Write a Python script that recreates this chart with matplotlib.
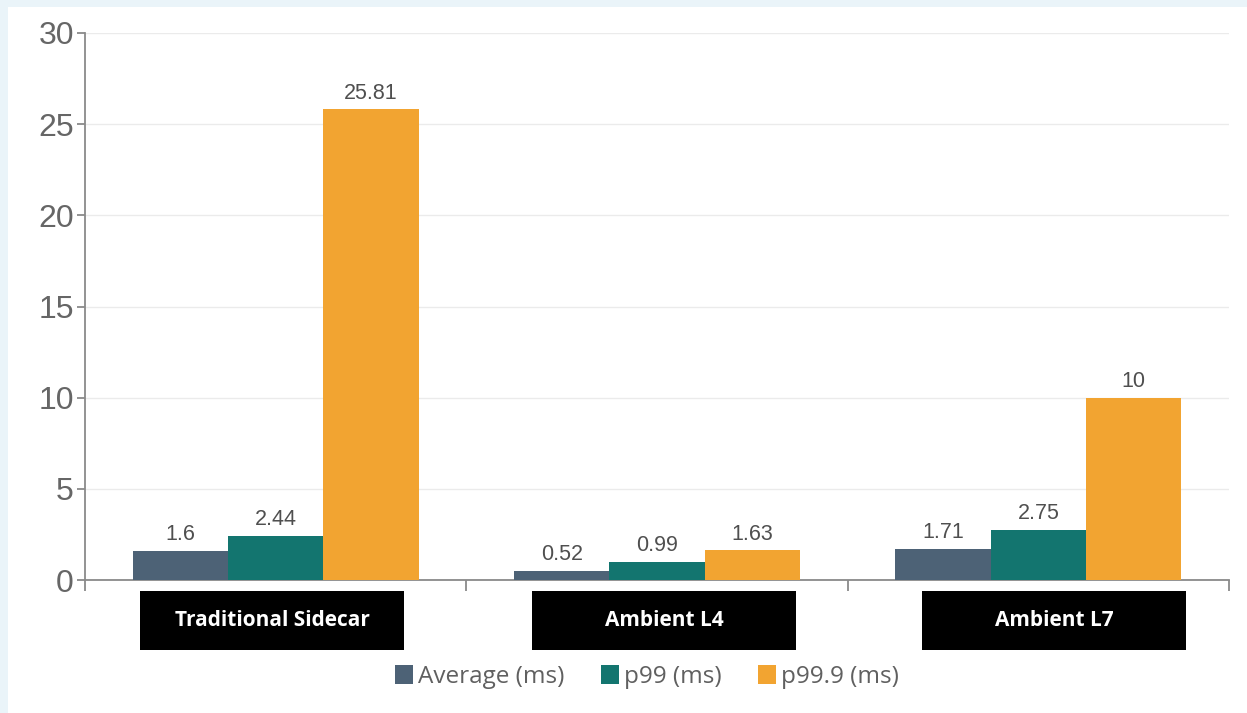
import matplotlib.pyplot as plt
import numpy as np
from matplotlib.patches import Rectangle

categories = ["Traditional Sidecar", "Ambient L4", "Ambient L7"]
series_names = ["Average (ms)", "p99 (ms)", "p99.9 (ms)"]
average_ms = [1.6, 0.52, 1.71]
p99_ms = [2.44, 0.99, 2.75]
p999_ms = [25.81, 1.63, 10]
value_labels = [["1.6", "0.52", "1.71"], ["2.44", "0.99", "2.75"], ["25.81", "1.63", "10"]]

colors = ["#4d6276", "#13756f", "#f2a431"]
W, H = 1247, 713

fig = plt.figure(figsize=(W / 100, H / 100), dpi=100, facecolor="#eaf4f9")
# white panel, behind the axes
fig.patches.append(Rectangle((8 / W, 0), 1 - 8 / W, 1 - 7 / H, transform=fig.transFigure,
                             facecolor="white", edgecolor="none", zorder=-1))

ax = fig.add_axes([85 / W, 1 - 580 / H, (1229 - 85) / W, (580 - 33) / H])
ax.set_facecolor("none")

x = np.arange(len(categories))
bar_w = 0.25
for i, (vals, name) in enumerate(zip([average_ms, p99_ms, p999_ms], series_names)):
    pos = x + (i - 1) * bar_w
    ax.bar(pos, vals, width=bar_w, color=colors[i], label=name, zorder=3)
    for px, v, lab in zip(pos, vals, value_labels[i]):
        ax.text(px, v + 0.3, lab, ha="center", va="bottom", fontsize=15.5,
                color="#4f4f4f", family="Liberation Sans", zorder=4)

ax.set_xlim(-0.5, len(categories) - 0.5)
ax.set_ylim(0, 30)
ax.set_yticks(range(0, 31, 5))
ax.yaxis.grid(True, color="#ebebeb", linewidth=1, zorder=0)
ax.set_axisbelow(True)

for side in ["top", "right"]:
    ax.spines[side].set_visible(False)
ax.spines["left"].set_color("#8a8a8a")
ax.spines["bottom"].set_color("#8a8a8a")
ax.spines["left"].set_linewidth(1.3)
ax.spines["bottom"].set_linewidth(1.3)

ax.tick_params(axis="y", colors="#8a8a8a", length=6, width=1.3, labelsize=23, pad=2,
               labelcolor="#666666")
for t in ax.get_yticklabels():
    t.set_family("Liberation Sans")

# category boundary ticks on the x axis
ax.set_xticks(np.arange(len(categories) + 1) - 0.5)
ax.set_xticklabels([])
ax.tick_params(axis="x", colors="#8a8a8a", length=8, width=1.3)

# black label boxes under each category
box_lefts = [140, 532, 922]
box_w, box_top, box_bot = 264, 591, 650
for cat, left in zip(categories, box_lefts):
    fig.patches.append(Rectangle((left / W, 1 - box_bot / H), box_w / W, (box_bot - box_top) / H,
                                 transform=fig.transFigure, facecolor="black", edgecolor="none"))
    fig.text((left + box_w / 2) / W, 1 - (box_top + box_bot) / 2 / H, cat, ha="center", va="center",
             color="white", fontsize=15, fontweight="bold", family="Open Sans")

handles, labels = ax.get_legend_handles_labels()
leg = fig.legend(handles, labels, loc="center", bbox_to_anchor=(647 / W, 1 - 677 / H), ncol=3,
                 frameon=False, handlelength=0.75, handleheight=0.8, handletextpad=0.2,
                 columnspacing=1.5, prop={"family": "Open Sans", "size": 17.5})
for t in leg.get_texts():
    t.set_color("#606060")

fig.savefig("out.png", dpi=100, facecolor=fig.get_facecolor())
